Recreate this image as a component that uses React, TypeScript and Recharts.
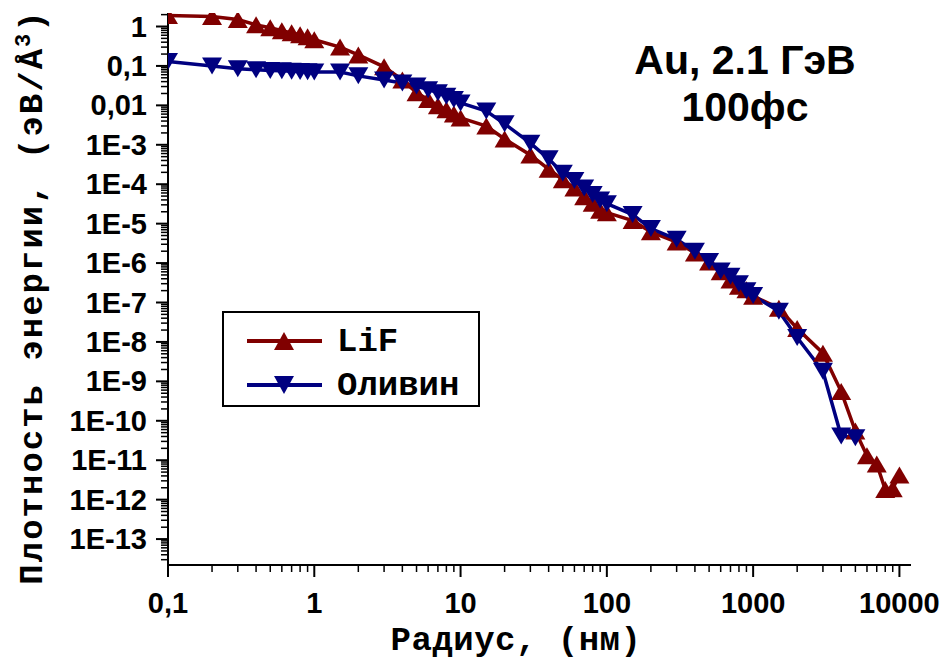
import { LineChart, Line, XAxis, YAxis, Legend } from "recharts";

// radius (nm) / energy density (eV/Å³)
const lifRadius = [
  0.1, 0.2, 0.3, 0.4, 0.5, 0.6, 0.7, 0.8, 0.9, 1, 1.5, 2, 3, 4, 5, 6, 7, 8, 9, 10,
  15, 20, 30, 40, 50, 60, 70, 80, 90, 100, 150, 200, 300, 400, 500, 600, 700, 800, 900, 1000,
  1500, 2000, 3000, 4000, 5000, 6000, 7000, 8000, 9000, 10000,
];
const lifEnergy = [
  1.9, 1.8, 1.5, 1.1, 0.93, 0.78, 0.69, 0.62, 0.55, 0.46, 0.3, 0.19, 0.095, 0.044, 0.021, 0.014, 0.0098, 0.0077, 0.006, 0.0048,
  0.003, 0.0014, 5.5e-4, 2.4e-4, 1.3e-4, 8e-5, 4.8e-5, 3.3e-5, 2.2e-5, 1.9e-5, 1.2e-5, 6.2e-6, 3.4e-6, 1.8e-6, 1.07e-6, 6e-7, 3.7e-7, 2.6e-7, 2.1e-7, 1.45e-7,
  7.2e-8, 2.2e-8, 5.2e-9, 5.5e-10, 5.5e-11, 1.3e-11, 8e-12, 1.8e-12, 1.9e-12, 4.2e-12,
];

const olivRadius = [
  0.1, 0.2, 0.3, 0.4, 0.5, 0.6, 0.7, 0.8, 0.9, 1, 1.5, 2, 3, 4, 5, 6, 7, 8, 9, 10,
  15, 20, 30, 40, 50, 60, 70, 80, 90, 100, 150, 200, 300, 400, 500, 600, 700, 800, 900, 1000,
  1500, 2000, 3000, 4000, 5000,
];
const olivEnergy = [
  0.13, 0.1, 0.085, 0.08, 0.077, 0.075, 0.073, 0.072, 0.071, 0.07, 0.07, 0.056, 0.044, 0.037, 0.031, 0.025, 0.021, 0.017, 0.014, 0.0115,
  0.0072, 0.0034, 0.0011, 4.4e-4, 1.9e-4, 1.25e-4, 8e-5, 5.5e-5, 4e-5, 3.2e-5, 1.7e-5, 7.5e-6, 4e-6, 2e-6, 1.1e-6, 6.3e-7, 4.6e-7, 3e-7, 2e-7, 1.5e-7,
  6e-8, 1.3e-8, 1.8e-9, 4.1e-11, 3.7e-11,
];

const xMajor = [0.1, 1, 10, 100, 1000, 10000];
const xTickLabels = ["0,1", "1", "10", "100", "1000", "10000"];
const yMajor = [1, 0.1, 0.01, 1e-3, 1e-4, 1e-5, 1e-6, 1e-7, 1e-8, 1e-9, 1e-10, 1e-11, 1e-12, 1e-13];
const yTickLabels = [
  "1", "0,1", "0,01", "1E-3", "1E-4", "1E-5", "1E-6", "1E-7", "1E-8", "1E-9", "1E-10", "1E-11", "1E-12", "1E-13",
];

const X_DOMAIN: [number, number] = [0.1, 12000];
const Y_DOMAIN: [number, number] = [2.2e-14, 2.2];

const RED = "#800000";
const BLUE = "#000080";
const SANS = "'Liberation Sans', Arial, sans-serif";
const MONO = "'Liberation Mono', 'Courier New', monospace";

const lifData = lifRadius.map((x, i) => ({ x, y: lifEnergy[i] }));
const olivData = olivRadius.map((x, i) => ({ x, y: olivEnergy[i] }));

// major + minor (2..9) ticks inside the domain
function logTicks([lo, hi]: [number, number]) {
  const out: number[] = [];
  for (let k = Math.floor(Math.log10(lo)); k <= Math.ceil(Math.log10(hi)); k++) {
    for (let m = 1; m <= 9; m++) {
      const v = m * Math.pow(10, k);
      if (v >= lo && v <= hi) out.push(v);
    }
  }
  return out;
}

function findMajor(list: number[], v: number) {
  return list.findIndex((m) => Math.abs(m - v) / m < 1e-6);
}

function XTick({ x, y, payload }: any) {
  const idx = findMajor(xMajor, payload.value);
  const major = idx >= 0;
  return (
    <g>
      <line x1={x} y1={y} x2={x} y2={y + (major ? 12 : 7)} stroke="#000" strokeWidth={major ? 2 : 1.5} />
      {major && (
        <text x={x} y={y + 48} textAnchor="middle" fontFamily={SANS} fontWeight="bold" fontSize={29} fill="#000">
          {xTickLabels[idx]}
        </text>
      )}
    </g>
  );
}

function YTick({ x, y, payload }: any) {
  const idx = findMajor(yMajor, payload.value);
  const major = idx >= 0;
  return (
    <g>
      <line x1={x} y1={y} x2={x - (major ? 12 : 7)} y2={y} stroke="#000" strokeWidth={major ? 2 : 1.5} />
      {major && (
        <text x={x - 21} y={y + 10} textAnchor="end" fontFamily={SANS} fontWeight="bold" fontSize={29} fill="#000">
          {yTickLabels[idx]}
        </text>
      )}
    </g>
  );
}

function tri(cx: number, cy: number, up: boolean, w = 20, h = 17) {
  return up
    ? `M${cx},${cy - h / 2}L${cx + w / 2},${cy + h / 2}L${cx - w / 2},${cy + h / 2}Z`
    : `M${cx},${cy + h / 2}L${cx + w / 2},${cy - h / 2}L${cx - w / 2},${cy - h / 2}Z`;
}

const upDot = (p: any) => <path key={`u${p.index}`} d={tri(p.cx, p.cy, true)} fill={RED} />;
const downDot = (p: any) => <path key={`d${p.index}`} d={tri(p.cx, p.cy, false)} fill={BLUE} />;

const legendItems = [
  { name: "LiF", color: RED, up: true },
  { name: "Оливин", color: BLUE, up: false },
];

function LegendBox() {
  return (
    <svg width={258} height={96}>
      <rect x={1} y={1} width={256} height={94} fill="#fff" stroke="#000" strokeWidth={2} />
      {legendItems.map((it, i) => {
        const cy = 30 + i * 44;
        return (
          <g key={it.name}>
            <line x1={25} y1={cy} x2={100} y2={cy} stroke={it.color} strokeWidth={4} />
            <path d={tri(62, cy, it.up, 20, 18)} fill={it.color} />
            <text x={115} y={cy + 10} fontFamily={MONO} fontWeight="bold" fontSize={34} fill="#000">
              {it.name}
            </text>
          </g>
        );
      })}
    </svg>
  );
}

export default function App() {
  return (
    <div style={{ position: "absolute", left: 0, top: 0, width: 948, height: 666, background: "#fff" }}>
      <LineChart width={948} height={666} margin={{ top: 13, right: 37, bottom: 0, left: 0 }}>
        <XAxis
          type="number"
          dataKey="x"
          scale="log"
          domain={X_DOMAIN}
          allowDataOverflow
          ticks={logTicks(X_DOMAIN)}
          interval={0}
          tickLine={false}
          tickSize={0}
          tickMargin={0}
          tick={<XTick />}
          height={101}
          axisLine={{ stroke: "#000", strokeWidth: 2 }}
        />
        <YAxis
          type="number"
          dataKey="y"
          scale="log"
          domain={Y_DOMAIN}
          allowDataOverflow
          ticks={logTicks(Y_DOMAIN)}
          interval={0}
          tickLine={false}
          tickSize={0}
          tickMargin={0}
          tick={<YTick />}
          width={168}
          axisLine={{ stroke: "#000", strokeWidth: 2 }}
        />
        <Legend
          layout="horizontal"
          verticalAlign="middle"
          align="center"
          wrapperStyle={{ position: "absolute", left: 222, top: 311, width: 258, height: 96 }}
          content={() => <LegendBox />}
        />
        <Line
          data={lifData}
          dataKey="y"
          name="LiF"
          stroke={RED}
          strokeWidth={3.5}
          dot={upDot}
          activeDot={false}
          isAnimationActive={false}
        />
        <Line
          data={olivData}
          dataKey="y"
          name="Оливин"
          stroke={BLUE}
          strokeWidth={3.5}
          dot={downDot}
          activeDot={false}
          isAnimationActive={false}
        />
      </LineChart>
      <svg
        width={948}
        height={666}
        style={{ position: "absolute", left: 0, top: 0, pointerEvents: "none" }}
      >
        <text x={745} y={74} textAnchor="middle" fontFamily={SANS} fontWeight="bold" fontSize={41} fill="#000">
          Au, 2.1 ГэВ
        </text>
        <text x={745} y={121} textAnchor="middle" fontFamily={SANS} fontWeight="bold" fontSize={41} fill="#000">
          100фс
        </text>
        <text x={516} y={650} textAnchor="middle" fontFamily={MONO} fontWeight="bold" fontSize={34} letterSpacing={0.5} fill="#000">
          Радиус, (нм)
        </text>
        <text
          transform="translate(42,297) rotate(-90)"
          textAnchor="middle"
          fontFamily={MONO}
          fontWeight="bold"
          fontSize={34}
          letterSpacing={2}
          fill="#000"
        >
          Плотность энергии, (эВ/Å<tspan dy={-12} fontSize={22}>3</tspan><tspan dy={12}>)</tspan>
        </text>
      </svg>
    </div>
  );
}
